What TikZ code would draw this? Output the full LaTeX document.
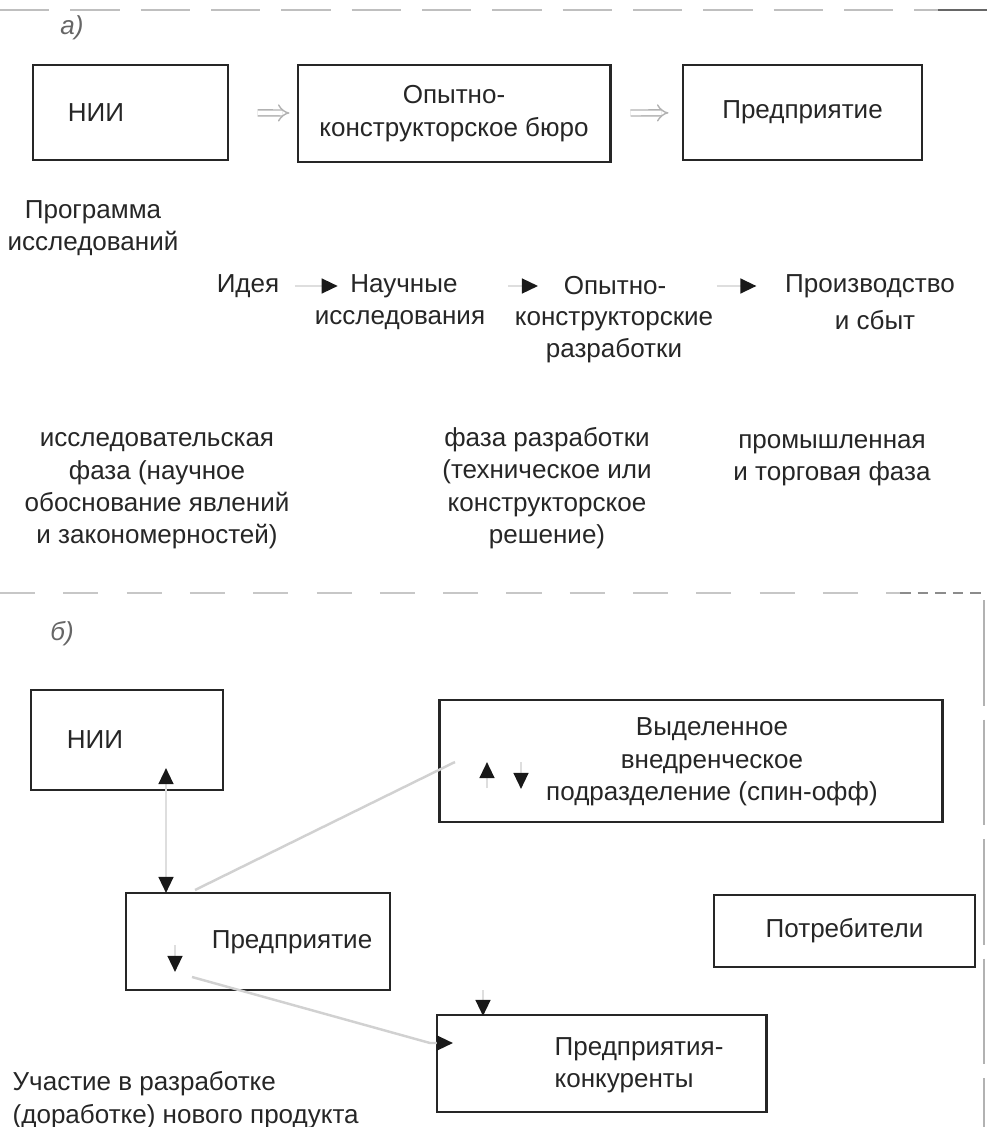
\documentclass[tikz,border=0pt]{standalone}
\usepackage{fontspec}
\setmainfont{Liberation Sans}
\usetikzlibrary{arrows.meta, calc}

\begin{document}
\begin{tikzpicture}[x=0.01cm, y=-0.01cm,
    every node/.style={font=\fontsize{7.4}{9.2}\selectfont, text=black!85, inner sep=0pt, align=center},
    box/.style={draw=black!85, line width=0.8pt},
    faint/.style={draw=black!13, line width=0.7pt},
    link/.style={faint, -{Triangle[length=4.6pt, width=4.2pt, black!90]}},
    both/.style={faint, {Triangle[length=4.6pt, width=4.2pt, black!90]}-{Triangle[length=4.6pt, width=4.2pt, black!90]}},
    dbl/.style={draw=black!30, double, double distance=1.3pt, line width=0.4pt, -{Implies}},
    tag/.style={font=\fontsize{7.4}{9}\selectfont\itshape, text=black!60}]
    \useasboundingbox (0,0) rectangle (987,1127);
    % part a
    \draw[black!25, line width=0.5pt, dash pattern=on 14pt off 6pt] (0,10) -- (938,10);
    \draw[black!60, line width=0.6pt] (938,10) -- (987,10);
    \node[tag] (la) at (72,28) {а)};
    \node[box, minimum width=1.95cm, minimum height=0.95cm] (niiA) at (130.5,112.5) {};
    \node (niiAt) at (96,113) {НИИ};
    \node[box, minimum width=3.12cm, minimum height=0.97cm] (okb) at (454,113.5) {Опытно-\\конструкторское бюро};
    \node[box, minimum width=2.39cm, minimum height=0.95cm] (entA) at (802.5,112.5) {Предприятие};
    \draw[dbl, shorten <=8pt, shorten >=2pt] (niiA) -- (okb);
    \draw[dbl, shorten <=5.4pt, shorten >=3.7pt] (okb) -- (entA);
    \node (prog) at (93,228) {Программа\\исследований};
    % stages
    \node (idea) at (248,286) {Идея};
    \node (nauch) at (404,286) {Научные};
    \node (nauch2) at (400,320) {исследования};
    \node (okr) at (615,286) {Опытно-};
    \node (okr2) at (614,337) {конструкторские\\разработки};
    \node (proizv) at (870,286) {Производство};
    \node (proizv2) at (875,320) {и сбыт};
    \draw[link, shorten <=0.15cm, shorten >=0.12cm] (idea) -- (nauch);
    \draw[link, shorten <=0.5cm, shorten >=0.25cm] (nauch) -- (okr);
    \draw[link, shorten <=0.5cm, shorten >=0.28cm] (okr) -- (proizv);
    % phases
    \node (ph1) at (157,491) {исследовательская\\фаза (научное\\обоснование явлений\\и закономерностей)};
    \node (ph2) at (547,488) {фаза разработки\\(техническое или\\конструкторское\\решение)};
    \node (ph3) at (832,460) {промышленная\\и торговая фаза};
    \draw[black!22, line width=0.5pt, dash pattern=on 10pt off 8pt] (0,593) -- (900,593);
    \draw[black!45, line width=0.5pt, dash pattern=on 3pt off 2pt] (900,593) -- (987,593);
    % part b
    \node[tag] (lb) at (62,634) {б)};
    \node[box, minimum width=1.92cm, minimum height=1.0cm] (niiB) at (127,740) {};
    \node (niiBt) at (95,740) {НИИ};
    \node[box, minimum width=5.02cm, minimum height=1.22cm] (spin) at (691,761) {};
    \node (spint) at (712,762) {Выделенное\\внедренческое\\подразделение (спин-офф)};
    \node[box, minimum width=2.64cm, minimum height=0.97cm] (entB) at (258,941.5) {};
    \node (entBt) at (292,942) {Предприятие};
    \node[box, minimum width=2.61cm, minimum height=0.72cm] (cons) at (844.5,931) {Потребители};
    \node[box, minimum width=3.29cm, minimum height=0.97cm] (comp) at (601.5,1063.5) {};
    \node[anchor=west, align=left] (compt) at (554,1065) {Предприятия-\\конкуренты};
    \node[anchor=west, align=left] (part) at (12,1100) {Участие в разработке\\(доработке) нового продукта};
    % arrow ends
    \coordinate (hA) at (166,768);
    \coordinate (hB) at (166,893);
    \coordinate (hC) at (487,762);
    \coordinate (hCb) at (487,788);
    \coordinate (hD) at (521,789);
    \coordinate (hDt) at (521,762);
    \coordinate (hE) at (175,972);
    \coordinate (hEt) at (175,945);
    \coordinate (hF) at (453,1043);
    \coordinate (hG) at (483,1016);
    \coordinate (hGt) at (483,990);
    \coordinate (t1) at (195,890);
    \coordinate (t2) at (455,762);
    \coordinate (t3) at (192,977);
    \coordinate (t4) at (430,1043);
    \draw[both] (hA) -- (hB);
    \draw[faint, draw=black!18] (t1) -- (t2);
    \draw[link] (hCb) -- (hC);
    \draw[link] (hDt) -- (hD);
    \draw[link] (hEt) -- (hE);
    \draw[link, draw=black!18] (t3) -- (t4) -- (hF);
    \draw[link] (hGt) -- (hG);
    \draw[black!30, line width=0.6pt, dash pattern=on 30pt off 4pt] (984,600) -- (984,1127);
\end{tikzpicture}
\end{document}
